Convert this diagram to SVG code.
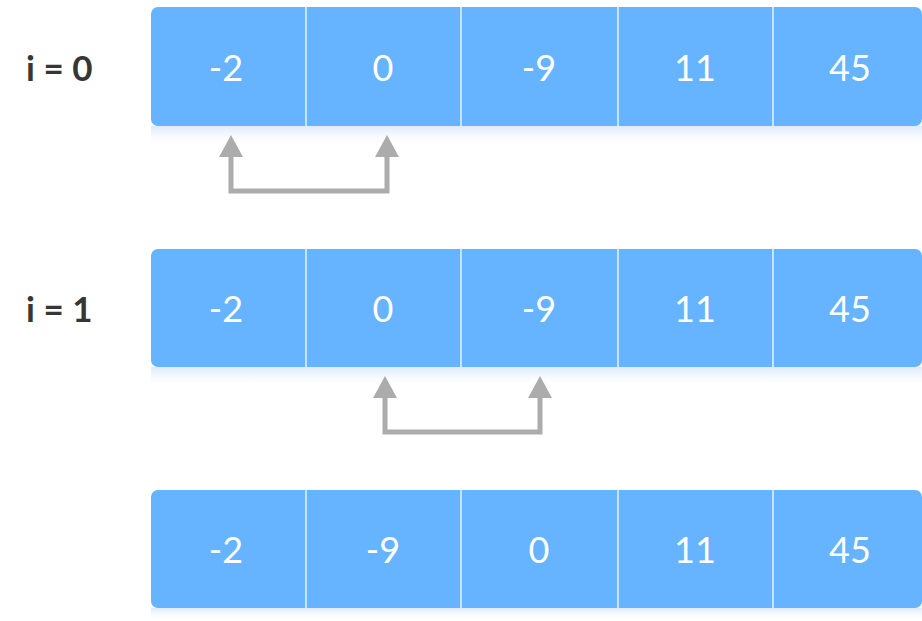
<svg xmlns="http://www.w3.org/2000/svg" width="922" height="621" viewBox="0 0 922 621">
<defs>
<linearGradient id="sh" x1="0" y1="0" x2="0" y2="1">
<stop offset="0" stop-color="#dfeafb"/>
<stop offset="1" stop-color="#ffffff" stop-opacity="0"/>
</linearGradient>
</defs>
<style>
.box{fill:#66b3ff}
.div{stroke:#ffffff;stroke-width:1.5;opacity:0.85}
.v{font-family:Lato,"Liberation Sans",sans-serif;font-size:36px;fill:#ffffff;text-anchor:middle}
.lab{font-family:Lato,"Liberation Sans",sans-serif;font-size:35px;font-weight:bold;fill:#363636}
.arr{fill:none;stroke:#acacac;stroke-width:5;stroke-linejoin:miter}
.head{fill:#acacac}
</style>
<rect x="151" y="126" width="771" height="22" fill="url(#sh)"/>
<rect x="151" y="367" width="771" height="22" fill="url(#sh)"/>
<rect x="151" y="608" width="771" height="13" fill="url(#sh)"/>
<g id="row0">
<rect class="box" x="151" y="7" width="771" height="119" rx="7"/>
<line class="div" x1="306" y1="7" x2="306" y2="126"/>
<line class="div" x1="461" y1="7" x2="461" y2="126"/>
<line class="div" x1="618" y1="7" x2="618" y2="126"/>
<line class="div" x1="773" y1="7" x2="773" y2="126"/>
<text class="v" x="226" y="81">-2</text>
<text class="v" x="383" y="81">0</text>
<text class="v" x="539" y="81">-9</text>
<text class="v" x="695" y="81">11</text>
<text class="v" x="850" y="81">45</text>
</g>
<g id="row1">
<rect class="box" x="151" y="249" width="771" height="118" rx="7"/>
<line class="div" x1="306" y1="249" x2="306" y2="367"/>
<line class="div" x1="461" y1="249" x2="461" y2="367"/>
<line class="div" x1="618" y1="249" x2="618" y2="367"/>
<line class="div" x1="773" y1="249" x2="773" y2="367"/>
<text class="v" x="226" y="322">-2</text>
<text class="v" x="383" y="322">0</text>
<text class="v" x="539" y="322">-9</text>
<text class="v" x="695" y="322">11</text>
<text class="v" x="850" y="322">45</text>
</g>
<g id="row2">
<rect class="box" x="151" y="490" width="771" height="118" rx="7"/>
<line class="div" x1="306" y1="490" x2="306" y2="608"/>
<line class="div" x1="461" y1="490" x2="461" y2="608"/>
<line class="div" x1="618" y1="490" x2="618" y2="608"/>
<line class="div" x1="773" y1="490" x2="773" y2="608"/>
<text class="v" x="226" y="563">-2</text>
<text class="v" x="383" y="563">-9</text>
<text class="v" x="539" y="563">0</text>
<text class="v" x="695" y="563">11</text>
<text class="v" x="850" y="563">45</text>
</g>
<g id="label0"><text class="lab" x="26" y="81">i = 0</text></g>
<g id="label1"><text class="lab" x="26" y="322">i = 1</text></g>
<g id="connectors">
<path class="arr" d="M231,155 V191 H387 V155"/>
<polygon class="head" points="219,157 231,135 243,157"/>
<polygon class="head" points="375,157 387,135 399,157"/>
<path class="arr" d="M385,396 V432 H540 V396"/>
<polygon class="head" points="373,398 385,376 397,398"/>
<polygon class="head" points="528,398 540,376 552,398"/>
</g>
</svg>
